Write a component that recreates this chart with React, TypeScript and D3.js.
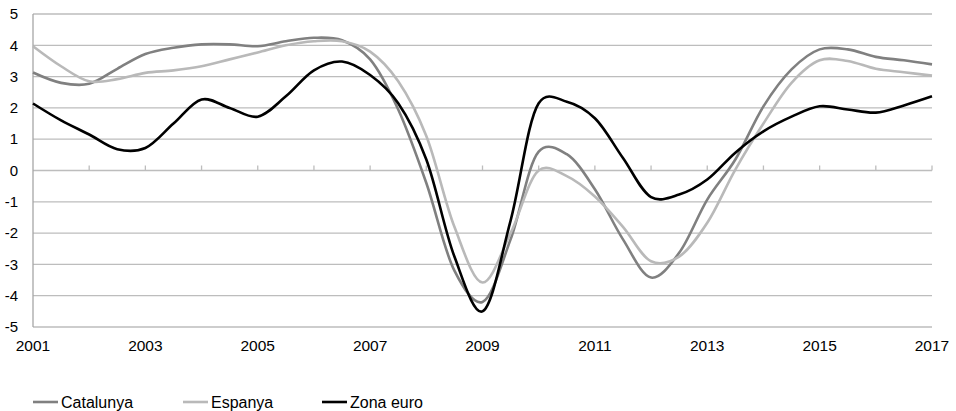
import React, { useRef, useEffect } from "react";
import * as d3 from "d3";

// semi-annual points, 2001.0 -> 2017.0
const periods: number[] = d3.range(0, 33).map((i) => 2001 + i / 2);

const catalunya: number[] = [
  3.13, 2.8, 2.77, 3.25, 3.72, 3.92, 4.03, 4.03, 3.97, 4.13, 4.24,
  4.16, 3.55, 1.95, -0.4, -3.2, -4.2, -2.2, 0.6, 0.52, -0.6, -2.2,
  -3.42, -2.63, -0.93, 0.35, 2.05, 3.23, 3.87, 3.87, 3.63, 3.52, 3.39,
];

const espanya: number[] = [
  3.97, 3.33, 2.85, 2.92, 3.12, 3.2, 3.33, 3.55, 3.77, 4.0, 4.13,
  4.13, 3.8, 2.85, 1.1, -1.8, -3.58, -2.0, 0.0, -0.18, -0.83, -1.8,
  -2.9, -2.75, -1.67, 0.03, 1.5, 2.8, 3.52, 3.5, 3.25, 3.14, 3.03,
];

const zonaEuro: number[] = [
  2.14, 1.6, 1.15, 0.68, 0.72, 1.5, 2.27, 2.0, 1.72, 2.37, 3.2,
  3.48, 3.05, 2.15, 0.35, -2.75, -4.5, -1.6, 2.15, 2.2, 1.67, 0.4,
  -0.85, -0.77, -0.29, 0.57, 1.25, 1.72, 2.05, 1.95, 1.85, 2.08, 2.37,
];

const seriesNames = ["Catalunya", "Espanya", "Zona euro"];
const seriesColors = ["#808080", "#b9b9b9", "#000000"];
const yTicks = d3.range(-5, 6);
const xTickLabels = [2001, 2003, 2005, 2007, 2009, 2011, 2013, 2015, 2017];
const yearTicks = d3.range(2002, 2018);

const App: React.FC = () => {
  const ref = useRef<SVGSVGElement | null>(null);

  useEffect(() => {
    if (!ref.current) return;
    const svg = d3.select(ref.current);
    svg.selectAll("*").remove();

    const font = "'Liberation Sans', Arial, sans-serif";
    const x = d3.scaleLinear().domain([2001, 2017]).range([33, 932]);
    const y = d3.scaleLinear().domain([-5, 5]).range([327, 14]);

    // gridlines
    svg.append("g")
      .selectAll("line")
      .data(yTicks)
      .join("line")
      .attr("x1", x(2001))
      .attr("x2", x(2017))
      .attr("y1", (d) => y(d))
      .attr("y2", (d) => y(d))
      .attr("stroke", "#bdbdbd")
      .attr("stroke-width", 1.3);

    // left axis
    svg.append("line")
      .attr("x1", x(2001)).attr("x2", x(2001))
      .attr("y1", y(5)).attr("y2", y(-5))
      .attr("stroke", "#a6a6a6")
      .attr("stroke-width", 1.3);

    // year ticks on zero line
    svg.append("g")
      .selectAll("line")
      .data(yearTicks)
      .join("line")
      .attr("x1", (d) => x(d))
      .attr("x2", (d) => x(d))
      .attr("y1", y(0))
      .attr("y2", y(0) - 5)
      .attr("stroke", "#bdbdbd")
      .attr("stroke-width", 1.3);

    // y labels
    svg.append("g")
      .selectAll("text")
      .data(yTicks)
      .join("text")
      .attr("x", 18)
      .attr("y", (d) => y(d))
      .attr("dy", "0.35em")
      .attr("text-anchor", "end")
      .style("font", `15px ${font}`)
      .attr("fill", "#000")
      .text((d) => String(d));

    // x labels
    svg.append("g")
      .selectAll("text")
      .data(xTickLabels)
      .join("text")
      .attr("x", (d) => x(d))
      .attr("y", 351)
      .attr("text-anchor", "middle")
      .style("font", `15.5px ${font}`)
      .attr("fill", "#000")
      .text((d) => String(d));

    const line = d3.line<number>()
      .x((_, i) => x(periods[i]))
      .y((d) => y(d))
      .curve(d3.curveCatmullRom.alpha(0.2));

    const all = [catalunya, espanya, zonaEuro];
    svg.append("g")
      .selectAll("path")
      .data(all)
      .join("path")
      .attr("d", (d) => line(d)!)
      .attr("fill", "none")
      .attr("stroke", (_, i) => seriesColors[i])
      .attr("stroke-width", 2.6);

    // legend
    const legendX = [33, 183, 322];
    const lg = svg.append("g")
      .selectAll("g")
      .data(seriesNames)
      .join("g")
      .attr("transform", (_, i) => `translate(${legendX[i]},402)`);
    lg.append("line")
      .attr("x1", 0).attr("x2", 25)
      .attr("stroke", (_, i) => seriesColors[i])
      .attr("stroke-width", 2.6);
    lg.append("text")
      .attr("x", 28)
      .attr("dy", "0.35em")
      .style("font", `16px ${font}`)
      .attr("fill", "#000")
      .text((d) => d);
  }, []);

  return (
    <svg
      ref={ref}
      width={956}
      height={411}
      style={{ position: "absolute", left: 0, top: 0, background: "#fff" }}
    />
  );
};

export default App;
